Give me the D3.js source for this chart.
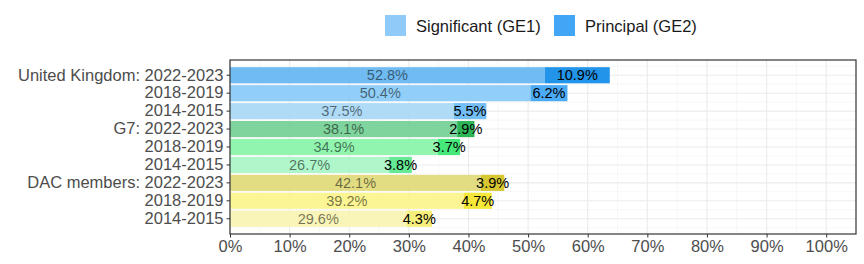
<!DOCTYPE html>
<html>
<head>
<meta charset="utf-8">
<script src="https://cdn.jsdelivr.net/npm/d3@7"></script>
<style>
  body { margin: 0; background: #fff; }
  text { font-family: "Liberation Sans", Arial, sans-serif; }
</style>
</head>
<body>
<div id="chart"></div>
<script>
/**
 * DATA
 * */
const rows = [
  "United Kingdom: 2022-2023", "2018-2019", "2014-2015",
  "G7: 2022-2023", "2018-2019 ", "2014-2015 ",
  "DAC members: 2022-2023", "2018-2019  ", "2014-2015  "
];
const ge1 = [52.8, 50.4, 37.5, 38.1, 34.9, 26.7, 42.1, 39.2, 29.6];
const ge2 = [10.9, 6.2, 5.5, 2.9, 3.7, 3.8, 3.9, 4.7, 4.3];
const xTicks = [0, 10, 20, 30, 40, 50, 60, 70, 80, 90, 100];
const legendLabels = ["Significant (GE1)", "Principal (GE2)"];

// palette per row (GE1 light, GE2 dark)
const fill1 = ["#64b5f0", "#89cbf7", "#a8d8f6", "#74cf94", "#88f4a9", "#a8f5c6", "#e0da78", "#fbf48a", "#f8f4b2"];
const fill2 = ["#168ee8", "#42a7f5", "#6cbcf5", "#22b24c", "#3ce872", "#5ee88e", "#d4c428", "#f5e62e", "#f6ee74"];
const legendFill = ["#90caf9", "#42a5f5"];

/**
 * LAYOUT
 * */
const width = 864, height = 264;
const plot = { left: 230, right: 856, top: 60, bottom: 234 };

const svg = d3.select("#chart").append("svg")
  .attr("width", width).attr("height", height);

const x = d3.scaleLinear().domain([0, 105]).range([plot.left, plot.right]);
const y = d3.scaleBand().domain(rows).range([plot.top, plot.bottom])
  .paddingInner(0.1).paddingOuter(0.4);

// grid
const grid = svg.append("g");
const minorX = d3.range(5, 105, 10);
grid.selectAll(".vminor").data(minorX).join("line")
  .attr("x1", d => x(d)).attr("x2", d => x(d))
  .attr("y1", plot.top).attr("y2", plot.bottom)
  .attr("stroke", "#f2f2f2").attr("stroke-width", 0.6);
const centers = rows.map(r => y(r) + y.bandwidth() / 2);
const step = y.step();
const minorY = centers.map(c => c - step / 2).concat([centers[centers.length - 1] + step / 2]);
grid.selectAll(".hminor").data(minorY).join("line")
  .attr("x1", plot.left).attr("x2", plot.right)
  .attr("y1", d => d).attr("y2", d => d)
  .attr("stroke", "#f2f2f2").attr("stroke-width", 0.6);
grid.selectAll(".vmajor").data(xTicks).join("line")
  .attr("x1", d => x(d)).attr("x2", d => x(d))
  .attr("y1", plot.top).attr("y2", plot.bottom)
  .attr("stroke", "#ebebeb").attr("stroke-width", 1.1);
grid.selectAll(".hmajor").data(centers).join("line")
  .attr("x1", plot.left).attr("x2", plot.right)
  .attr("y1", d => d).attr("y2", d => d)
  .attr("stroke", "#ebebeb").attr("stroke-width", 1.1);

// bars
const data = rows.map((r, i) => ({ row: r, a: ge1[i], b: ge2[i], i }));
const bars = svg.append("g");
bars.selectAll(".ge1").data(data).join("rect")
  .attr("x", x(0)).attr("y", d => y(d.row))
  .attr("width", d => x(d.a) - x(0)).attr("height", y.bandwidth())
  .attr("fill", d => fill1[d.i]).attr("fill-opacity", 0.92);
bars.selectAll(".ge2").data(data).join("rect")
  .attr("x", d => x(d.a)).attr("y", d => y(d.row))
  .attr("width", d => x(d.a + d.b) - x(d.a)).attr("height", y.bandwidth())
  .attr("fill", d => fill2[d.i]).attr("fill-opacity", 0.95);

// value labels
const labels = svg.append("g").attr("font-size", 14.5).attr("text-anchor", "middle");
labels.selectAll(".l1").data(data).join("text")
  .attr("x", d => x(d.a / 2)).attr("y", d => y(d.row) + y.bandwidth() / 2)
  .attr("dy", "0.36em").attr("fill", "#000").attr("fill-opacity", 0.55)
  .text(d => d.a.toFixed(1) + "%");
labels.selectAll(".l2").data(data).join("text")
  .attr("x", d => x(d.a + d.b / 2)).attr("y", d => y(d.row) + y.bandwidth() / 2)
  .attr("dy", "0.36em").attr("fill", "#000")
  .text(d => d.b.toFixed(1) + "%");

// panel border
svg.append("rect")
  .attr("x", plot.left).attr("y", plot.top)
  .attr("width", plot.right - plot.left).attr("height", plot.bottom - plot.top)
  .attr("fill", "none").attr("stroke", "#333").attr("stroke-width", 1.2);

// axes
const xAxis = svg.append("g").attr("transform", `translate(0,${plot.bottom})`)
  .call(d3.axisBottom(x).tickValues(xTicks).tickFormat(d => d + "%").tickSize(3.5).tickPadding(3));
const yAxis = svg.append("g").attr("transform", `translate(${plot.left},0)`)
  .call(d3.axisLeft(y).tickSize(3.5).tickPadding(3).tickFormat(d => d.trim()));
[xAxis, yAxis].forEach(g => {
  g.select(".domain").remove();
  g.selectAll("line").attr("stroke", "#333");
  g.selectAll("text").attr("fill", "#4d4d4d").attr("font-size", 16.5)
    .attr("font-family", "'Liberation Sans', Arial, sans-serif");
});

// legend
const legend = svg.append("g");
const legendX = [385, 554];
legend.selectAll("rect").data(legendLabels).join("rect")
  .attr("x", (d, i) => legendX[i]).attr("y", 15)
  .attr("width", 21).attr("height", 21)
  .attr("fill", (d, i) => legendFill[i]);
legend.selectAll("text").data(legendLabels).join("text")
  .attr("x", (d, i) => legendX[i] + 31).attr("y", 26)
  .attr("dy", "0.36em").attr("font-size", 16.5).attr("fill", "#1a1a1a")
  .text(d => d);
</script>
</body>
</html>
